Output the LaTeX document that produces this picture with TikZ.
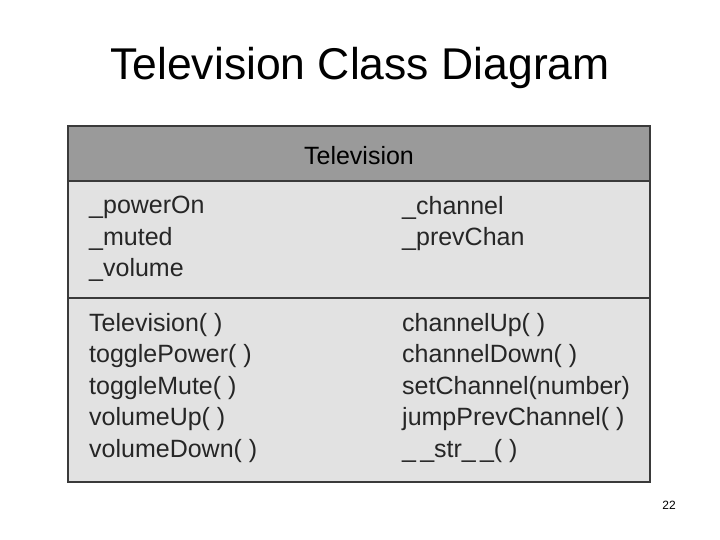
\documentclass[tikz,border=0pt]{standalone}
\usepackage{fontspec}
\setmainfont{Liberation Sans}
\usetikzlibrary{positioning}
\definecolor{headgray}{HTML}{9A9A9A}
\definecolor{bodygray}{HTML}{E2E2E2}
\definecolor{linegray}{HTML}{3A3A3A}
\tikzset{
  member/.style={anchor=north west, align=left, inner sep=0pt,
    font=\fontsize{25}{31.5}\selectfont, text=black!85}
}
\begin{document}
\begin{tikzpicture}[x=1pt,y=-1pt]
  \useasboundingbox (0,0) rectangle (720,540);
  % Title
  \node (title) at (360,68) {\fontsize{44.5}{50}\selectfont Television Class Diagram};
  % Class box compartments
  \fill[bodygray] (68,126) rectangle (650,482);
  \fill[headgray] (68,126) rectangle (650,181);
  \draw[linegray, line width=2.5pt] (68,126) rectangle (650,482);
  \draw[linegray, line width=2.5pt] (68,181) -- (650,181);
  \draw[linegray, line width=2.5pt] (68,298) -- (650,298);
  % Class name
  \node (name) at (359,156) {\fontsize{25}{30}\selectfont Television};
  % Attributes
  \node[member] (attrL) at (89,196) {\_powerOn\\\_muted\\\_volume};
  \node[member] (attrR) at (402,196) {\_channel\\\_prevChan};
  % Methods
  \node[member] (methL) at (89,313) {Television( )\\togglePower( )\\toggleMute( )\\volumeUp( )\\volumeDown( )};
  \node[member] (methR) at (402,313) {channelUp( )\\channelDown( )\\setChannel(number)\\jumpPrevChannel( )\\\_\,\_str\_\,\_( )};
  % Page number
  \node (page) at (669,505) {\fontsize{12}{14}\selectfont 22};
\end{tikzpicture}
\end{document}
